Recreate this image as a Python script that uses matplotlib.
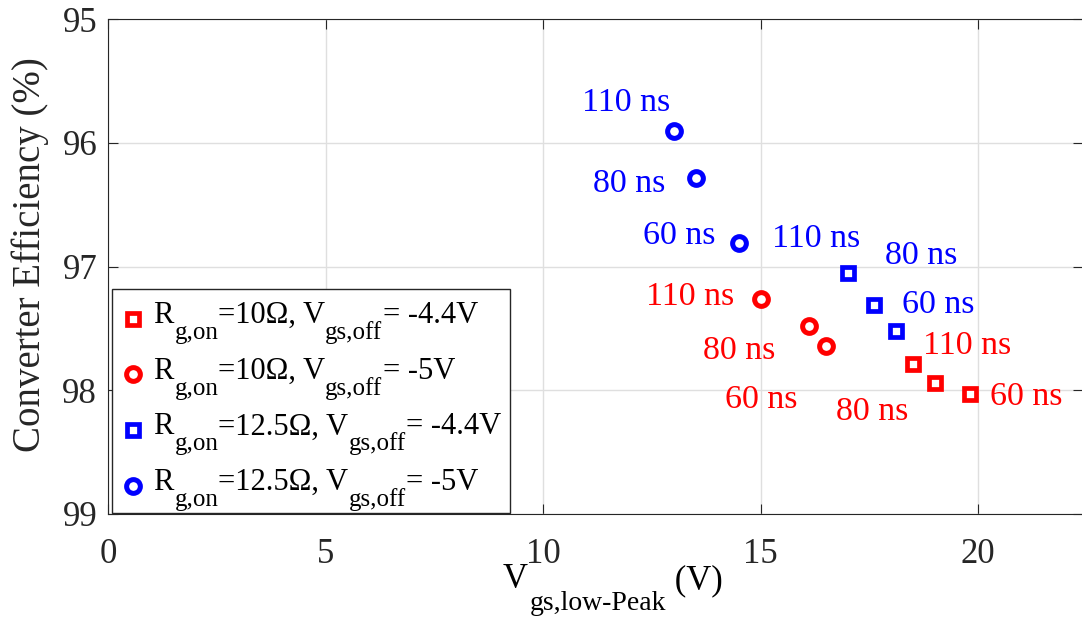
import matplotlib.pyplot as plt
from matplotlib.patches import Rectangle

plt.rcParams['font.family'] = ['Liberation Serif', 'DejaVu Serif']

# ----------------------
# data: efficiency vs low peak gate voltage
# ----------------------
dead_times = ['110 ns', '80 ns', '60 ns']

# Rg,on = 10 ohm, Vgs,off = -4.4 V
vgs_r10_44 = [18.5, 19.0, 19.8]
eff_r10_44 = [97.79, 97.94, 98.03]

# Rg,on = 10 ohm, Vgs,off = -5 V
vgs_r10_5 = [15.0, 16.1, 16.5]
eff_r10_5 = [97.26, 97.48, 97.64]

# Rg,on = 12.5 ohm, Vgs,off = -4.4 V
vgs_r125_44 = [17.0, 17.6, 18.1]
eff_r125_44 = [97.05, 97.31, 97.52]

# Rg,on = 12.5 ohm, Vgs,off = -5 V
vgs_r125_5 = [13.0, 13.5, 14.5]
eff_r125_5 = [95.9, 96.28, 96.81]

x_ticks = [0, 5, 10, 15, 20]
y_ticks = [95, 96, 97, 98, 99]

RED = '#ff0000'
BLUE = '#0000ff'
DARK = '#262626'

# ----------------------
# figure / axes
# ----------------------
fig = plt.figure(figsize=(10.82, 6.19), dpi=100)
ax = fig.add_axes([108.3 / 1082, 105 / 619, 974.4 / 1082, 494.7 / 619])

ax.set_xlim(0, 22.4)
ax.set_ylim(99, 95)
ax.set_xticks(x_ticks)
ax.set_yticks(y_ticks)
ax.grid(True, color='#dfdfdf', linewidth=1.0)
ax.set_axisbelow(True)
for s in ax.spines.values():
    s.set_color(DARK)
    s.set_linewidth(0.8)
ax.tick_params(direction='in', length=7, width=0.8, color=DARK,
               top=True, right=True, labelsize=25, labelcolor=DARK)
ax.tick_params(axis='x', pad=17)
ax.tick_params(axis='y', pad=8)

# ----------------------
# series
# ----------------------
series = [
    (vgs_r10_44, eff_r10_44, 's', RED,
     [(9.6, 10.7), (-98.6, -37.3), (20, -11)]),
    (vgs_r10_5, eff_r10_5, 'o', RED,
     [(-115, -6.4), (-105.7, -33.3), (-101.3, -62.6)]),
    (vgs_r125_44, eff_r125_44, 's', BLUE,
     [(-75.4, 26.3), (10.7, 41.4), (6.6, 18.4)]),
    (vgs_r125_5, eff_r125_5, 'o', BLUE,
     [(-91.3, 19.3), (-102.7, -14), (-96, -1.3)]),
]

for xs, ys, mk, col, offs in series:
    if mk == 'o':
        ms, mew = 9.9, 3.6
    else:
        ms, mew = 8.0, 3.4
    ax.plot(xs, ys, linestyle='none', marker=mk, markersize=ms,
            markeredgewidth=mew, markeredgecolor=col,
            markerfacecolor='white', zorder=3)
    for x, y, lab, (dx, dy) in zip(xs, ys, dead_times, offs):
        ax.annotate(lab, xy=(x, y), xytext=(dx, dy),
                    textcoords='offset pixels', color=col,
                    fontsize=24.5, ha='left', va='baseline')


# text pieces with subscripts, placed one after another
def text_chain(parts, x0):
    prev = None
    for txt, size, base, gap in parts:
        if prev is None:
            prev = ax.annotate(txt, xy=(x0, base), xycoords='figure pixels',
                               fontsize=size, ha='left', va='baseline',
                               color='black', zorder=6)
        else:
            prev = ax.annotate(txt, xy=(1, base),
                               xycoords=(prev, 'figure pixels'),
                               xytext=(gap, 0), textcoords='offset pixels',
                               fontsize=size, ha='left', va='baseline',
                               color='black', zorder=6)


# ----------------------
# legend
# ----------------------
ax.add_patch(Rectangle((0.0038, 0.002), 0.4084, 0.4528,
                       transform=ax.transAxes, facecolor='white',
                       edgecolor=DARK, linewidth=1.0, zorder=4))

legend_rows = [
    ('s', RED, '=10Ω, V', '= -4.4V'),
    ('o', RED, '=10Ω, V', '= -5V'),
    ('s', BLUE, '=12.5Ω, V', '= -4.4V'),
    ('o', BLUE, '=12.5Ω, V', '= -5V'),
]
row_marker_y = [0.394, 0.282, 0.170, 0.057]
row_baseline = [296, 240.3, 184.6, 129]

for (mk, col, mid, end), my, b in zip(legend_rows, row_marker_y, row_baseline):
    if mk == 'o':
        ms, mew = 9.9, 3.6
    else:
        ms, mew = 8.0, 3.4
    ax.plot([0.0253], [my], transform=ax.transAxes, linestyle='none',
            marker=mk, markersize=ms, markeredgewidth=mew,
            markeredgecolor=col, markerfacecolor='white',
            zorder=5, clip_on=False)
    text_chain([('R', 22, b, 0),
                ('g,on', 18, b - 16, 1),
                (mid, 22, b, 0),
                ('gs,off', 18, b - 16, 0),
                (end, 22, b, 0)], 153)

# ----------------------
# axis labels
# ----------------------
text_chain([('V', 25, 31, 0),
            ('gs,low-Peak', 20, 9, 2),
            (' (V)', 25, 30, 0)], 503)

ax.set_ylabel('Converter Efficiency (%)', fontsize=28, color=DARK)
ax.yaxis.set_label_coords(-0.0613, 0.5236)

fig.savefig('out.png', dpi=100)
